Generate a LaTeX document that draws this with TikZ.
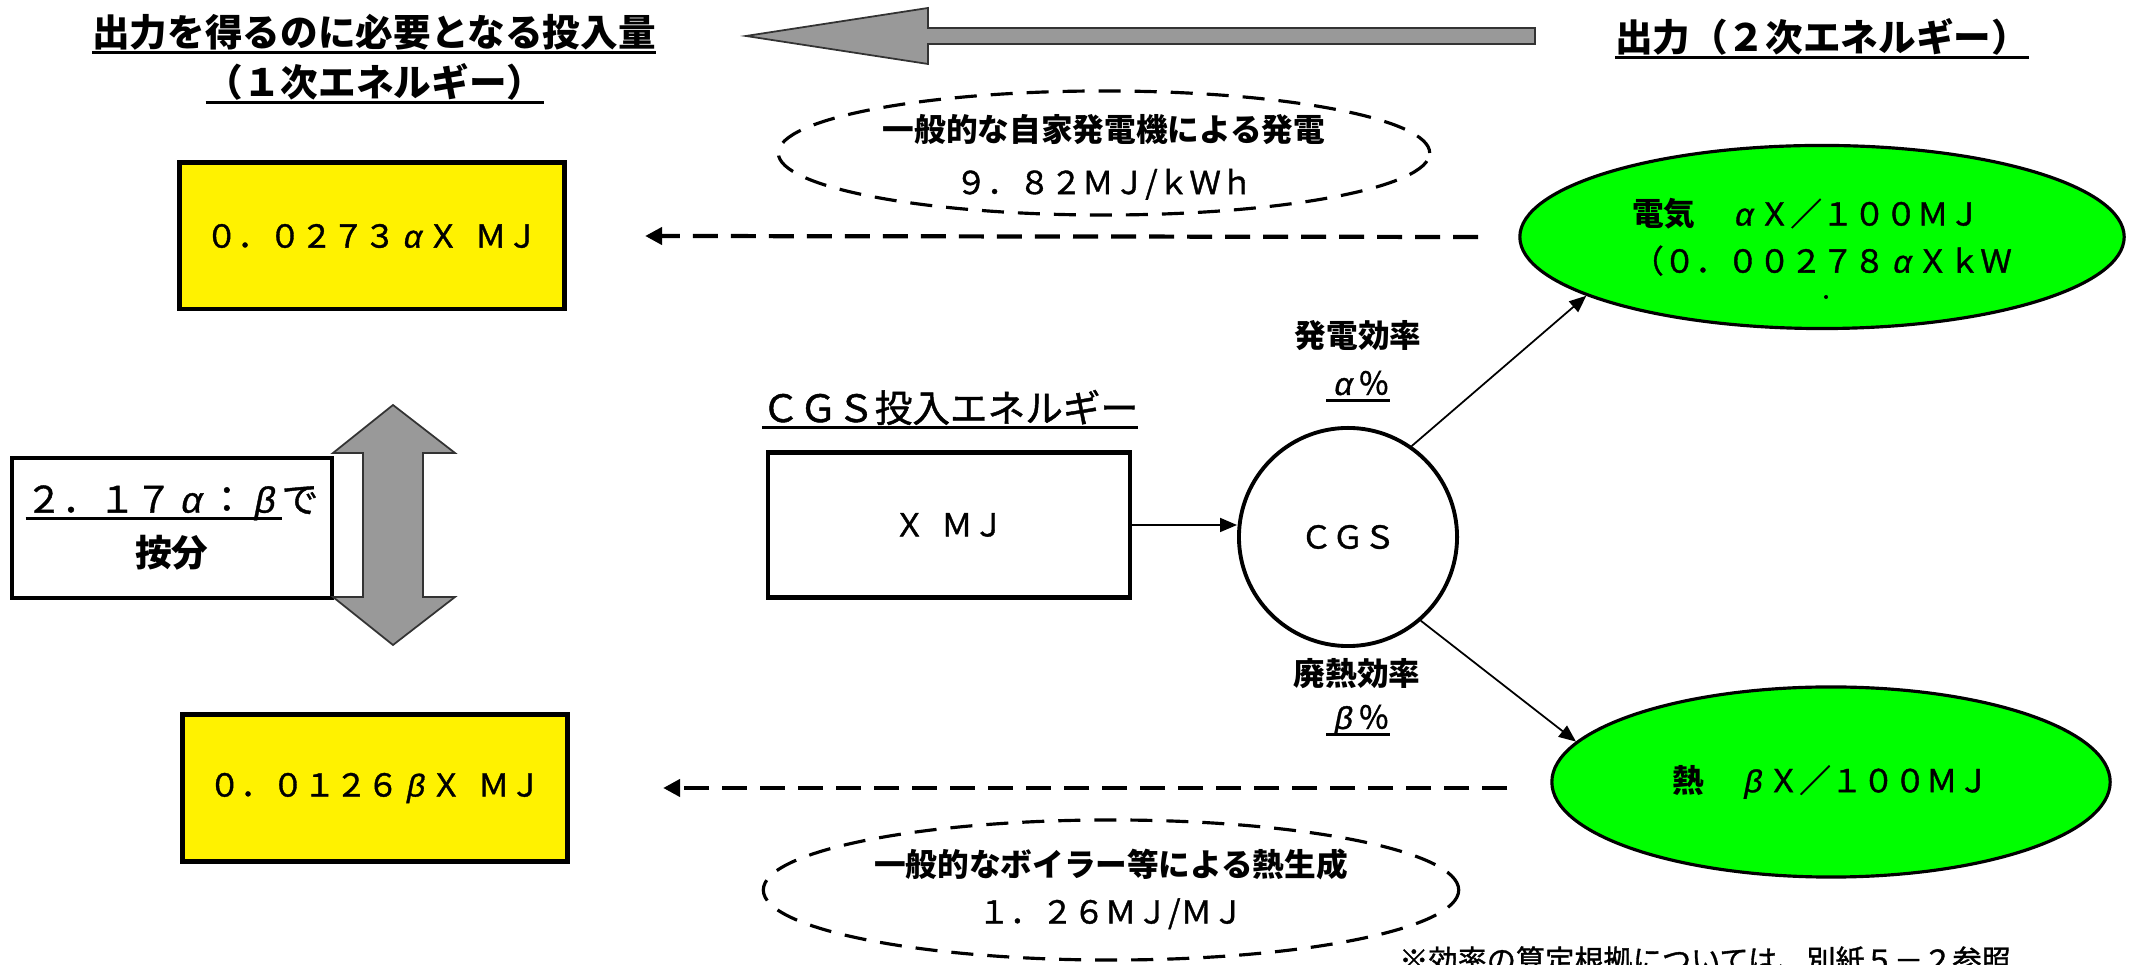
\documentclass[tikz,border=0pt]{standalone}
\usepackage{fontspec}
\setmainfont{Noto Sans CJK JP}[UprightFeatures={FakeBold=1.2}]
\newfontfamily\grk{Liberation Sans}[FakeSlant=0.2,FakeBold=1]
\usetikzlibrary{shapes.geometric,arrows.meta}
\def \al {\makebox[1em]{\grk α}}
\def \be {\makebox[1em]{\grk β}}
\def \hs {\hspace{.5em}}
\def \uln #1{\setbox0\hbox{#1}\rlap{\rule[-2pt]{\wd0}{0.8pt}}\box0}
\def \fttl {\fontsize{10.7}{14}\selectfont}
\def \fbody {\fontsize{9}{13.4}\selectfont}
\begin{document}
\begin{tikzpicture}[x=0.01cm,y=-0.01cm,
    ttl/.style={font=\fttl\bfseries,inner sep=0pt,anchor=base},
    lbl/.style={font=\fbody,inner sep=0pt,align=center},
    inbox/.style={draw,line width=1.4pt,fill=yellow,minimum width=3.85cm,
      minimum height=1.46cm,font=\fbody},
    plainbox/.style={draw,line width=1.2pt,font=\fbody,align=center},
    outell/.style={ellipse,draw,line width=0.9pt,fill=green,font=\fbody,
      align=left,inner sep=0pt},
    genell/.style={ellipse,draw,line width=0.9pt,dash pattern=on 0.22cm off 0.14cm},
    flow/.style={line width=0.5pt,-{Triangle[length=0.17cm,width=0.14cm]}},
    dashflow/.style={line width=1.2pt,dash pattern=on 0.25cm off 0.13cm,
      -{Triangle[length=0.17cm,width=0.17cm]}},
    blockarrow/.style={draw=black!80,line width=0.5pt,fill=black!40}]
  \useasboundingbox (0,0) rectangle (2134,965);
  % titles
  \node[ttl] (ttlIn) at (374,47) {\uln{出力を得るのに必要となる投入量}};
  \node[ttl] (ttlIn2) at (375,97) {\uln{（１次エネルギー）}};
  \node[ttl] (ttlOut) at (1822,52) {\uln{出力（２次エネルギー）}};
  \node[ttl,font=\fttl] (ttlCGS) at (950,422) {\uln{ＣＧＳ投入エネルギー}};
  \draw[blockarrow] (746,36) -- (928,8) -- (928,28) -- (1535,28) -- (1535,44)
    -- (928,44) -- (928,64) -- cycle;
  % input side
  \node[inbox] (inE) at (372,236) {０．０２７３\al Ｘ\hs ＭＪ};
  \node[inbox] (inH) at (375,788) {０．０１２６\be Ｘ\hs ＭＪ};
  \node[plainbox,minimum width=3.2cm,minimum height=1.4cm,
    font=\fontsize{10.4}{15.4}\selectfont] (ratio) at (172,528)
    {\uln{２．１７\al ：\be}で\\{\bfseries 按分}};
  \draw[blockarrow] (393,405) -- (455,453) -- (423,453) -- (423,597) -- (455,597)
    -- (393,645) -- (333,597) -- (363,597) -- (363,453) -- (333,453) -- cycle;
  % CGS
  \node[plainbox,minimum width=3.62cm,minimum height=1.45cm] (X) at (949,525) {Ｘ\hs ＭＪ};
  \node[circle,draw,line width=1.1pt,minimum size=2.18cm,font=\fbody] (CGS) at (1348,537) {ＣＧＳ};
  \node[lbl,font=\fbody\bfseries] (effE) at (1358,336) {発電効率};
  \node[lbl,anchor=base] (alE) at (1358,395) {\uln{\al ％}};
  \node[lbl,font=\fbody\bfseries] (effH) at (1357,674) {廃熱効率};
  \node[lbl,anchor=base] (beH) at (1358,729) {\uln{\be ％}};
  % output side
  \node[outell,minimum width=6.04cm,minimum height=1.83cm] (outE) at (1822,237)
    {{\bfseries 電気}　\al Ｘ／１００ＭＪ\\（０．００２７８\al ＸｋＷ};
  \fill (1826,297) circle[radius=2];
  \node[outell,minimum width=5.58cm,minimum height=1.9cm] (outH) at (1831,782)
    {{\bfseries 熱}　\be Ｘ／１００ＭＪ};
  \node[genell,minimum width=6.51cm,minimum height=1.24cm] (genE) at (1104,153) {};
  \node[lbl,font=\fontsize{9}{15}\selectfont] (genEtxt) at (1104,157)
    {{\bfseries 一般的な自家発電機による発電}\\９．８２ＭＪ/ｋＷｈ};
  \node[genell,minimum width=6.95cm,minimum height=1.4cm] (genH) at (1111,890) {};
  \node[lbl] (genHtxt) at (1111,889)
    {{\bfseries 一般的なボイラー等による熱生成}\\１．２６ＭＪ/ＭＪ};
  \node[lbl,font=\fontsize{8.3}{10}\selectfont,anchor=base] (note) at (1705,971)
    {※効率の算定根拠については、別紙５－２参照};
  % connectors
  \draw[flow] (X.east) -- (X.east -| CGS.west);
  \draw[flow] (CGS.55) -- (outE.194);
  \draw[flow] (CGS.-49) -- (outH.171);
  \draw[dashflow] ([xshift=-0.4cm]outE.west) -- ([xshift=0.78cm]inE.east);
  \draw[dashflow] ([xshift=-0.43cm]outH.west |- inH.east) -- ([xshift=0.93cm]inH.east);
\end{tikzpicture}
\end{document}
